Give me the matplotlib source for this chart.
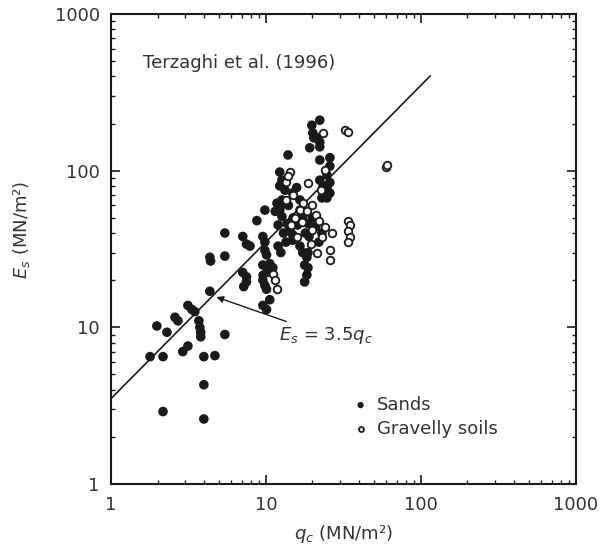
import matplotlib
matplotlib.use("Agg")
import matplotlib.pyplot as plt
import numpy as np

# ---- data ----
sands_q = [1.79, 1.98, 2.17, 2.30, 2.17, 2.59, 2.71, 2.91, 3.14, 3.14, 3.33, 3.48, 3.70, 3.75,
           3.80, 3.80, 3.98, 3.98, 3.98, 4.69, 5.44, 4.35, 4.35, 4.40, 5.44, 5.44, 7.1, 7.5,
           7.9, 7.1, 7.5, 7.5, 7.2,
           9.57, 9.86, 9.86, 10.1, 9.57, 10.1, 10.6, 11.1, 9.57, 9.86, 10.1, 10.6, 9.57, 10.1,
           9.6, 10.3,
           22.3, 19.8, 20.1, 20.4, 21.6, 22.3, 19.2, 22.3, 13.9, 22.3, 25.9, 25.9, 24.8, 25.9,
           24.8, 25.9, 12.3, 12.7, 12.3, 13.3, 12.7, 12.3, 12.9, 15.8, 14.9, 16.6, 22.3, 23.3,
           23.0, 24.8, 12.3, 12.7, 13.7, 14.3, 14.9, 16.6, 17.3, 18.7, 9.86, 8.75, 11.5, 12.0,
           13.0, 13.5, 15.0, 16.0, 18.0, 19.0, 20.0, 21.0, 22.0, 23.0, 11.8, 14.0, 18.7, 18.4,
           17.8, 14.9, 16.6, 17.3, 18.7, 18.4, 17.8, 12.0, 12.5]
sands_E = [6.5, 10.2, 6.5, 9.3, 2.9, 11.6, 11.0, 7.0, 7.6, 13.8, 13.0, 12.6, 11.0, 10.0,
           9.3, 8.7, 6.5, 4.3, 2.6, 6.6, 9.0, 17.0, 28.0, 26.5, 40.0, 28.5, 38.0, 34.0,
           33.0, 22.4, 21.0, 19.5, 18.2,
           38.0, 35.0, 31.0, 29.0, 25.0, 24.3, 25.5, 24.0, 20.0, 18.5, 17.5, 15.0, 13.8, 13.0,
           21.5, 22.5,
           210, 195, 174, 162, 162, 152, 140, 142, 126, 117, 121, 107, 94, 84,
           78, 72, 98, 87, 80, 75, 65, 58, 62, 78, 72, 65, 87, 78,
           67, 67, 56, 51, 46, 42, 39, 56, 51, 46, 56, 48, 55, 45,
           40, 35, 50, 45, 40, 38, 50, 44, 35, 40, 62, 60, 30, 28,
           25, 36, 33, 30, 24, 21.6, 19.5, 33, 30]

gravel_q = [32.3, 33.8, 23.3, 14.3, 18.7, 24.0, 59.4, 60.5, 33.8, 34.8, 33.8, 34.8, 33.8,
            26.7, 25.9, 25.9, 11.1, 11.4, 11.8, 16.6, 15.5, 17.0, 18.5, 20.0, 21.0, 22.0,
            20.0, 23.0, 24.0, 16.0, 14.5, 13.5, 15.0, 17.5, 22.6, 13.5, 14.0, 19.5, 21.5]
gravel_E = [182, 176, 174, 98, 84, 101, 105, 108, 48, 45, 41, 38, 35,
            40, 31, 27, 22, 20, 17.5, 56, 50, 47, 55, 60, 52, 48,
            42, 38, 44, 38, 45, 65, 70, 62, 75, 85, 92, 34, 30]

line_q = [1.0, 115.0]
line_coef = 3.5

x_ticks = [1, 10, 100, 1000]
y_ticks = [1, 10, 100, 1000]

# ---- figure ----
plt.rcParams['font.family'] = ['DejaVu Sans']
fig = plt.figure(figsize=(6.06, 5.52), dpi=100)
ax = fig.add_axes([0.183, 0.1232, 0.767, 0.8514])

ink = '#1a1a1a'
txt = '#333333'

lq = np.array(line_q)
ax.plot(lq, line_coef * lq, color=ink, lw=1.2, zorder=2)

ax.scatter(sands_q, sands_E, s=48, c=ink, edgecolors='none', zorder=3, label='Sands')
ax.scatter(gravel_q, gravel_E, s=30, facecolors='white', edgecolors=ink, linewidths=1.3,
           zorder=4, label='Gravelly soils')

ax.set_xscale('log')
ax.set_yscale('log')
ax.set_xlim(1, 1000)
ax.set_ylim(1, 1000)
ax.set_xticks(x_ticks)
ax.set_xticklabels([str(t) for t in x_ticks])
ax.set_yticks(y_ticks)
ax.set_yticklabels([str(t) for t in y_ticks])

ax.tick_params(which='both', direction='in', top=True, right=True, colors=ink,
               labelcolor=txt, labelsize=13)
ax.tick_params(which='major', length=6.5, width=1.2)
ax.tick_params(which='minor', length=3, width=1.0)
ax.tick_params(axis='x', which='major', pad=9)
ax.tick_params(axis='y', which='major', pad=8)
for sp in ax.spines.values():
    sp.set_linewidth(1.5)
    sp.set_color(ink)

ax.set_xlabel('$q_c$ (MN/m²)', fontsize=13, color=txt, labelpad=6)
ax.set_ylabel('$E_s$ (MN/m²)', fontsize=13, color=txt)
ax.yaxis.set_label_coords(-0.17, 0.54)

ax.text(0.069, 0.896, 'Terzaghi et al. (1996)', transform=ax.transAxes, fontsize=13,
        color=txt, va='center', ha='left')

ax.annotate('$E_s$ = 3.5$q_c$', xy=(4.8, 15.6), xytext=(12.1, 8.9), fontsize=13,
            color=txt, va='center', ha='left',
            arrowprops=dict(arrowstyle='-|>', color=ink, lw=1.0, shrinkA=1, shrinkB=0,
                            mutation_scale=10))

leg = ax.legend(loc='upper left', bbox_to_anchor=(0.51, 0.203), frameon=False,
                fontsize=13, handlelength=0.6, handletextpad=0.6, labelspacing=0.35,
                borderaxespad=0, markerscale=0.65)
for t in leg.get_texts():
    t.set_color(txt)

fig.savefig('out.png', dpi=100)
